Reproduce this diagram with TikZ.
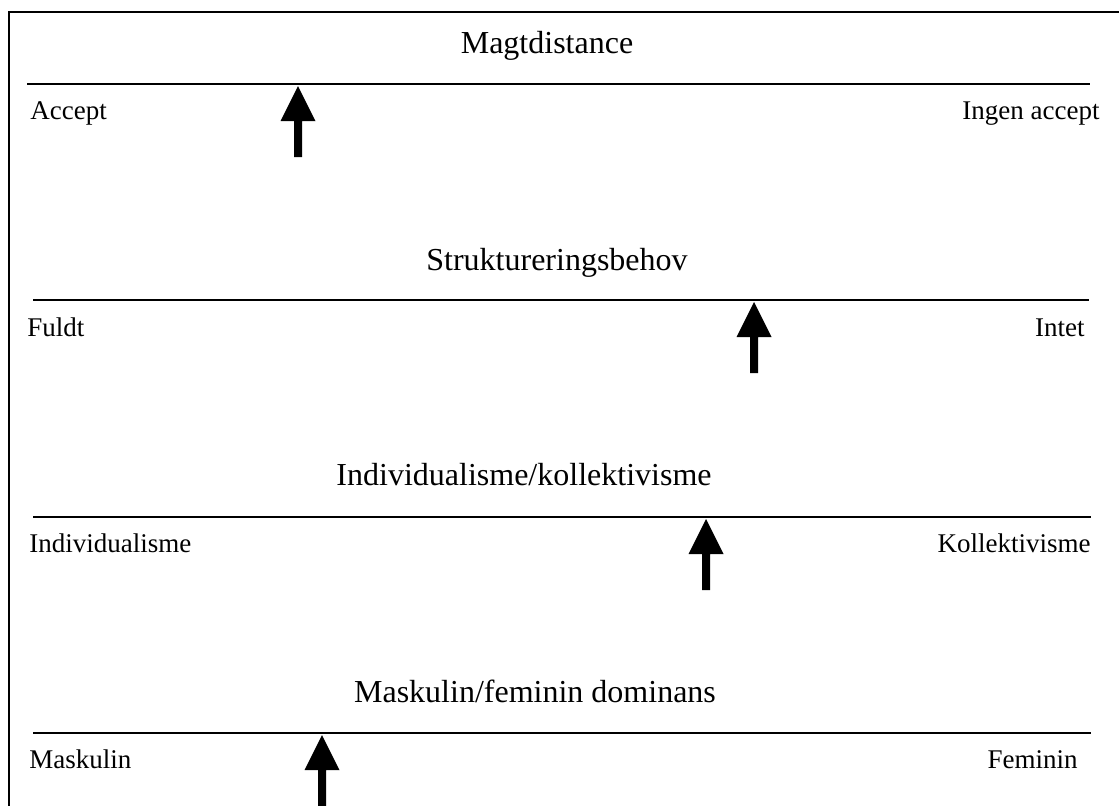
\documentclass[tikz,border=0pt]{standalone}
\usepackage{fontspec}
\setmainfont{Liberation Serif}
\tikzset{
  frameline/.style={line width=0.75pt, black},
  scaleline/.style={line width=0.85pt, black},
  titletext/.style={font=\fontsize{16}{19}\selectfont, inner sep=0pt, anchor=base},
  lefttext/.style={font=\fontsize{13.5}{16}\selectfont, inner sep=0pt, anchor=base west},
  righttext/.style={font=\fontsize{13.5}{16}\selectfont, inner sep=0pt, anchor=base east},
  marker/.style={fill=black, draw=none},
}
\newcommand{\upmarker}[1]{%
  \fill[marker] (#1) -- ++(17.5,35) -- ++(-13.5,0) -- ++(0,36) -- ++(-8,0) -- ++(0,-36) -- ++(-13.5,0) -- cycle;}
\begin{document}
\begin{tikzpicture}[x=0.5pt, y=-0.5pt]
\useasboundingbox (0,0) rectangle (1119,805);
\clip (0,0) rectangle (1119,805);
\draw[frameline] (9,12) rectangle (1140,830);

% Magtdistance
\node[titletext] (t1) at (547,53) {Magtdistance};
\coordinate (l1a) at (27,84);
\coordinate (l1b) at (1090,84);
\draw[scaleline, line width=1pt] (l1a) -- (l1b);
\node[lefttext] (a1) at (30,119) {Accept};
\node[righttext] (b1) at (1100,119) {Ingen accept};
\coordinate (m1) at (298,86);
\upmarker{m1}

% Struktureringsbehov
\node[titletext] (t2) at (557,270) {Struktureringsbehov};
\coordinate (l2a) at (33,300);
\coordinate (l2b) at (1089,300);
\draw[scaleline] (l2a) -- (l2b);
\node[lefttext] (a2) at (27,336) {Fuldt};
\node[righttext] (b2) at (1085,336) {Intet};
\coordinate (m2) at (754,302);
\upmarker{m2}

% Individualisme/kollektivisme
\node[titletext] (t3) at (524,485) {Individualisme/kollektivisme};
\coordinate (l3a) at (33,517);
\coordinate (l3b) at (1091,517);
\draw[scaleline] (l3a) -- (l3b);
\node[lefttext] (a3) at (29,552) {Individualisme};
\node[righttext] (b3) at (1091,552) {Kollektivisme};
\coordinate (m3) at (706,519);
\upmarker{m3}

% Maskulin/feminin dominans
\node[titletext] (t4) at (535,702) {Maskulin/feminin dominans};
\coordinate (l4a) at (33,733);
\coordinate (l4b) at (1091,733);
\draw[scaleline] (l4a) -- (l4b);
\node[lefttext] (a4) at (29,768) {Maskulin};
\node[righttext] (b4) at (1078,768) {Feminin};
\coordinate (m4) at (322,735);
\upmarker{m4}
\end{tikzpicture}
\end{document}
